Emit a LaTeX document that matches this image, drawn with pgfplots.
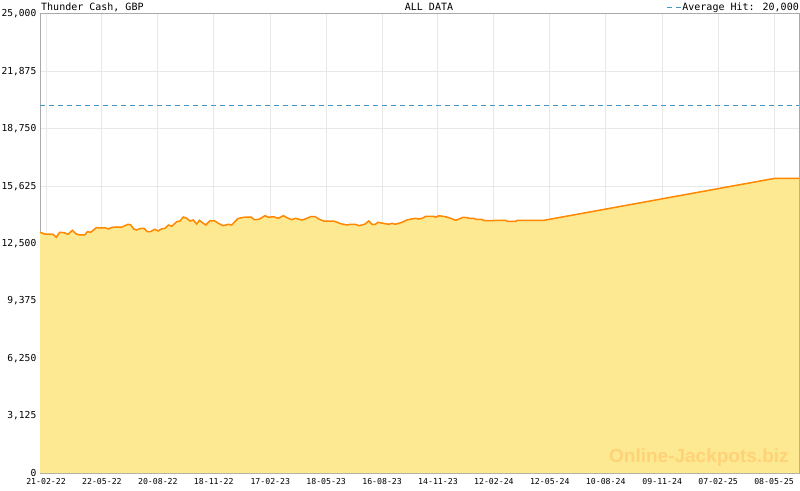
\documentclass[border=0pt]{standalone}
\usepackage{pgfplots}
\pgfplotsset{compat=1.18}
\usepackage{fontspec}
\setmainfont{DejaVu Sans Mono}
\newfontfamily\wmfont{Liberation Sans}
\definecolor{gridc}{RGB}{232,232,232}
\definecolor{axisc}{RGB}{170,170,170}
\definecolor{fillc}{RGB}{253,233,145}
\definecolor{linec}{RGB}{255,136,0}
\definecolor{dashc}{RGB}{70,150,200}
\definecolor{wmc}{RGB}{255,210,120}
\pgfplotsset{layers/mylayers/.define layer set={axis background,axis grid,main,axis ticks,axis lines,axis tick labels,axis descriptions,axis foreground}{}}
\pgfplotstableread{
day value
-9.7 13110
-2.1 13017
11.3 13001
16.6 12838
22.0 13110
29.0 13088
35.4 13001
42.3 13219
48.8 13017
54.2 12963
62.3 12963
66.5 13143
71.9 13110
81.0 13361
89.0 13344
94.5 13361
100.9 13290
106.2 13382
115.9 13399
121.2 13382
132.0 13546
136.3 13508
141.2 13290
145.4 13235
153.4 13328
157.8 13328
163.1 13143
168.0 13143
175.0 13273
180.3 13181
185.6 13290
191.6 13328
196.9 13508
202.3 13437
210.4 13687
215.7 13725
221.0 13943
226.5 13872
231.8 13725
237.1 13780
242.6 13562
246.8 13764
253.2 13600
257.1 13508
264.0 13742
272.1 13725
277.4 13600
285.4 13470
293.5 13546
298.9 13508
308.6 13851
317.6 13927
330.0 13943
335.3 13796
342.9 13818
352.5 14014
357.9 13927
365.9 13960
374.0 13872
382.0 14014
390.1 13872
395.5 13796
401.3 13872
412.1 13780
420.2 13872
425.5 13960
433.5 13960
439.0 13834
447.1 13725
463.1 13725
468.4 13655
476.5 13562
484.5 13508
489.9 13546
497.9 13546
503.4 13470
513.0 13546
519.5 13725
524.8 13546
530.1 13546
534.5 13655
542.5 13600
551.7 13546
557.0 13600
562.3 13546
567.8 13600
573.1 13655
581.1 13780
586.4 13818
594.5 13872
599.9 13834
605.8 13872
611.3 13981
624.1 13981
627.3 13927
632.7 14014
642.3 13960
648.8 13905
654.1 13834
659.6 13764
664.9 13834
671.3 13927
678.2 13905
681.0 13872
689.0 13872
691.8 13818
699.8 13818
706.8 13742
721.3 13742
724.0 13764
740.1 13764
742.7 13709
756.2 13709
758.7 13764
801.7 13764
1173.6 16051
1212.2 16051
}\jackpot
\begin{document}
\begin{tikzpicture}
\begin{axis}[
  name=ax,
  set layers=mylayers,
  scale only axis,
  width=759pt, height=459pt,
  xmin=-9.7, xmax=1212.2,
  ymin=0, ymax=25000,
  clip=false,
  axis line style={draw=axisc, line width=1pt},
  grid=major,
  major grid style={draw=gridc, line width=1pt},
  xtick={0,90,180,270,361,451,541,631,721,811,901,992,1082,1172},
  xticklabels={21-02-22,22-05-22,20-08-22,18-11-22,17-02-23,18-05-23,16-08-23,14-11-23,12-02-24,12-05-24,10-08-24,09-11-24,07-02-25,08-05-25},
  minor xtick={12.857,25.714,...,1212},
  ytick={0,3125,6250,9375,12500,15625,18750,21875,25000},
  yticklabels={0,{3,125},{6,250},{9,375},{12,500},{15,625},{18,750},{21,875},{25,000}},
  xtick pos=bottom, ytick pos=left,
  tick align=inside,
  major tick length=6pt, minor tick length=3pt,
  xtick style={draw=axisc, line width=1pt},
  ytick style={draw=none},
  xticklabel style={anchor=base, inner sep=0pt, yshift=-11pt, font=\fontsize{8.2}{8.2}\selectfont},
  yticklabel style={anchor=east, inner sep=0pt, xshift=-3.5pt, font=\fontsize{9.6}{9.6}\selectfont},
  tick label style={text=black},
]
\addplot[draw=none, fill=fillc] table[x=day, y=value] {\jackpot} \closedcycle;
\addplot[draw=linec, line width=1.5pt] table[x=day, y=value] {\jackpot};
\addplot[draw=dashc, line width=1pt, dash pattern=on 5pt off 4pt] coordinates {(-9.7,20000) (1212.2,20000)};
\node[anchor=base east, font=\wmfont\bfseries\fontsize{19}{19}\selectfont, text=wmc] at (rel axis cs:0.991,0.0218) {Online-Jackpots.biz};
\node[anchor=base west, inner sep=0pt, font=\fontsize{10}{10}\selectfont] at ([xshift=1pt,yshift=3pt]rel axis cs:0,1) {Thunder Cash, GBP};
\node[anchor=base, inner sep=0pt, font=\fontsize{10}{10}\selectfont] at ([yshift=3pt]rel axis cs:0.5125,1) {ALL DATA};
\node[anchor=base east, inner sep=0pt, font=\fontsize{10}{10}\selectfont] (avg) at ([yshift=3pt]rel axis cs:1,1) {Average Hit: 20,000};
\draw[dashc, line width=1pt, dash pattern=on 5pt off 4pt] ([xshift=-15pt,yshift=3.3pt]avg.base west) -- ([xshift=-1pt,yshift=3.3pt]avg.base west);
\end{axis}
\pgfresetboundingbox
\path[use as bounding box] ([xshift=-40pt,yshift=-17pt]ax.south west) rectangle ([xshift=1pt,yshift=14pt]ax.north east);
\end{tikzpicture}
\end{document}
